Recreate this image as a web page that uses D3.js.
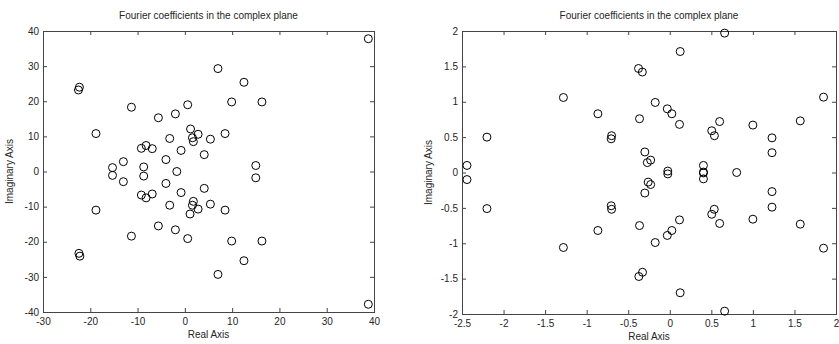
<!DOCTYPE html>
<html>
<head>
<meta charset="utf-8">
<script src="https://cdn.jsdelivr.net/npm/d3@7"></script>
<style>
  body { margin: 0; background: #fff; }
  svg text { font-family: "Liberation Sans", Arial, sans-serif; fill: #262626; }
  .frame { fill: none; stroke: #444; stroke-width: 1; }
  .axis path { display: none; }
  .axis line { stroke: #444; }
  .axis text { font-size: 10px; }
  .coef { fill: none; stroke: #000; stroke-width: 1; }
</style>
</head>
<body>
<div id="chart"></div>
<script>
// left panel: coefficients (real, imag)
const leftReal = [38.8, 7.0, 12.5, -22.3, -22.5, 9.9, 16.3, 0.6, -11.3, -2.0, -5.6, -18.8, 8.5, 1.2, 1.6, 1.8,
    2.8, 5.4, -3.2, -8.2, -9.2, -6.9, -0.8, 4.1, -4.0, -13.0, -15.3, -8.7, 15.0, -1.7,
    38.8, 7.0, 12.5, -22.4, -22.2, 9.9, 16.3, 0.6, -11.3, -2.0, -5.6, -18.8, 8.5, 1.1, 1.6, 1.8,
    2.8, 5.4, -3.2, -8.2, -9.2, -6.9, -0.8, 4.1, -4.0, -13.0, -15.3, -8.7, 15.0];
const leftImag = [37.8, 29.3, 25.4, 24.0, 23.2, 19.8, 19.8, 19.0, 18.3, 16.4, 15.3, 10.8, 10.8, 12.1, 9.6, 8.5,
    10.6, 9.2, 9.4, 7.4, 6.6, 6.5, 6.0, 4.8, 3.4, 2.8, 1.1, 1.3, 1.7, 0.0,
    -37.8, -29.3, -25.4, -23.3, -24.1, -19.8, -19.8, -19.1, -18.4, -16.6, -15.5, -11.0, -11.0, -12.1, -9.6, -8.5,
    -10.7, -9.3, -9.6, -7.5, -6.7, -6.4, -6.0, -4.8, -3.4, -2.9, -1.1, -1.3, -1.8];

// right panel
const rightReal = [-2.44, -2.20, -1.28, -0.865, -0.70, -0.705, -0.376, -0.33, -0.364, -0.30, -0.23, -0.27, -0.175,
    -0.03, 0.025, 0.117, 0.125, 0.66, 0.60, 0.505, 0.537, 1.0, 1.23, 1.23, 1.57, 1.85, -0.024, 0.405, 0.405, 0.805,
    -2.44, -2.20, -1.28, -0.865, -0.70, -0.705, -0.372, -0.328, -0.364, -0.30, -0.23, -0.26, -0.175,
    -0.03, 0.025, 0.117, 0.125, 0.66, 0.60, 0.505, 0.535, 1.0, 1.23, 1.23, 1.57, 1.85, -0.024, 0.405, 0.405];
const rightImag = [0.10, 0.50, 1.06, 0.83, 0.52, 0.476, 1.47, 1.42, 0.76, 0.29, 0.175, 0.14, 0.99,
    0.90, 0.83, 0.68, 1.71, 1.97, 0.72, 0.59, 0.52, 0.67, 0.49, 0.28, 0.73, 1.065, 0.02, 0.10, 0.006, 0.0,
    -0.10, -0.51, -1.06, -0.82, -0.52, -0.47, -1.47, -1.41, -0.75, -0.29, -0.17, -0.136, -0.99,
    -0.89, -0.82, -0.67, -1.70, -1.96, -0.72, -0.59, -0.52, -0.66, -0.49, -0.27, -0.73, -1.07, -0.02, -0.006, -0.09];

const leftXTicks = [-30, -20, -10, 0, 10, 20, 30, 40];
const leftYTicks = [-40, -30, -20, -10, 0, 10, 20, 30, 40];
const rightXTicks = [-2.5, -2, -1.5, -1, -0.5, 0, 0.5, 1, 1.5, 2];
const rightYTicks = [-2, -1.5, -1, -0.5, 0, 0.5, 1, 1.5, 2];

const titleText = "Fourier coefficients in the complex plane";

const svg = d3.select("#chart").append("svg")
    .attr("width", 839)
    .attr("height", 344);

// plain hyphen for negatives, like the original
const fmt = d => String(d);

function drawPanel(p) {
    const x = d3.scaleLinear().domain(d3.extent(p.xTicks)).range([p.left, p.right]);
    const y = d3.scaleLinear().domain(d3.extent(p.yTicks)).range([p.bottom, p.top]);
    const g = svg.append("g");
    const tick = 4;

    g.append("g").attr("class", "axis")
        .attr("transform", `translate(0,${p.bottom})`)
        .call(d3.axisBottom(x).tickValues(p.xTicks).tickSizeInner(-tick).tickSizeOuter(0).tickPadding(6).tickFormat(fmt));
    g.append("g").attr("class", "axis")
        .attr("transform", `translate(0,${p.top})`)
        .call(d3.axisTop(x).tickValues(p.xTicks).tickSizeInner(-tick).tickSizeOuter(0).tickFormat(""));
    g.append("g").attr("class", "axis")
        .attr("transform", `translate(${p.left},0)`)
        .call(d3.axisLeft(y).tickValues(p.yTicks).tickSizeInner(-tick).tickSizeOuter(0).tickPadding(4).tickFormat(fmt));
    g.append("g").attr("class", "axis")
        .attr("transform", `translate(${p.right},0)`)
        .call(d3.axisRight(y).tickValues(p.yTicks).tickSizeInner(-tick).tickSizeOuter(0).tickFormat(""));

    g.append("rect").attr("class", "frame")
        .attr("x", p.left + 0.5).attr("y", p.top + 0.5)
        .attr("width", p.right - p.left).attr("height", p.bottom - p.top);

    g.selectAll("circle.coef")
        .data(p.re.map((r, i) => ({ re: r, im: p.im[i] })))
        .enter()
        .append("circle")
        .attr("class", "coef")
        .attr("cx", d => x(d.re))
        .attr("cy", d => y(d.im))
        .attr("r", 4);

    const cx = (p.left + p.right) / 2;
    g.append("text").text(titleText)
        .attr("x", cx).attr("y", 19)
        .attr("text-anchor", "middle")
        .style("font-size", "10px");
    g.append("text").text("Real Axis")
        .attr("x", cx).attr("y", p.bottom + 26)
        .attr("text-anchor", "middle")
        .style("font-size", "10px");
    g.append("text").text("Imaginary Axis")
        .attr("transform", `translate(${p.ylabelX},${(p.top + p.bottom) / 2}) rotate(-90)`)
        .attr("text-anchor", "middle")
        .style("font-size", "10px");
}

drawPanel({ left: 43, right: 374, top: 31, bottom: 312, ylabelX: 13,
    xTicks: leftXTicks, yTicks: leftYTicks, re: leftReal, im: leftImag });
drawPanel({ left: 462, right: 836, top: 31, bottom: 314, ylabelX: 432,
    xTicks: rightXTicks, yTicks: rightYTicks, re: rightReal, im: rightImag });
</script>
</body>
</html>
